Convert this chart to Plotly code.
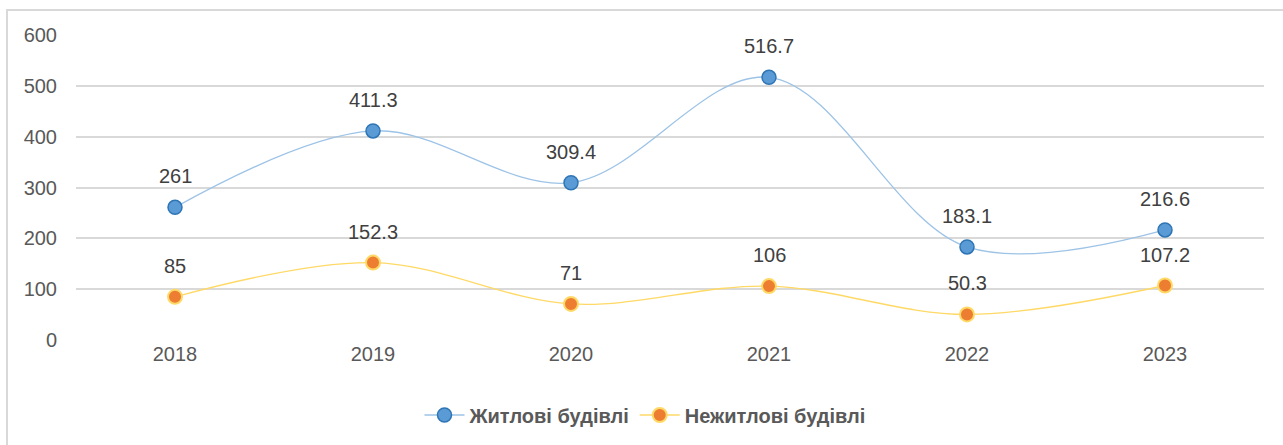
import plotly.graph_objects as go

years = ["2018", "2019", "2020", "2021", "2022", "2023"]
residential = [261, 411.3, 309.4, 516.7, 183.1, 216.6]
non_residential = [85, 152.3, 71, 106, 50.3, 107.2]
y_ticks = [0, 100, 200, 300, 400, 500, 600]

W, H = 1283, 445
ML, MR, MT, MB = 76, 19, 35, 104
PW, PH = W - ML - MR, H - MT - MB

FONT = "Liberation Sans, Arial, sans-serif"

fig = go.Figure()

fig.add_trace(go.Scatter(
    x=years, y=residential, name="Житлові будівлі",
    mode="lines+markers",
    line=dict(color="#9DC3E6", width=1.3, shape="spline", smoothing=1.0),
    marker=dict(size=14, color="#5B9BD5", line=dict(color="#2E75B6", width=1.5)),
))
fig.add_trace(go.Scatter(
    x=years, y=non_residential, name="Нежитлові будівлі",
    mode="lines+markers",
    line=dict(color="#FFD966", width=1.3, shape="spline", smoothing=1.0),
    marker=dict(size=14, color="#ED7D31", line=dict(color="#FFD966", width=2)),
))

# value labels above each point (category index used as x position)
for series in (residential, non_residential):
    for i, v in enumerate(series):
        fig.add_annotation(
            x=i, y=v, text=f"{v:g}", showarrow=False,
            yshift=31, font=dict(family=FONT, size=20, color="#404040"),
        )

# outer chart frame
def px_x(p):
    return (p - ML) / PW

def px_y(p):
    return (H - MB - p) / PH

fig.add_shape(
    type="rect", xref="paper", yref="paper",
    x0=px_x(7), x1=px_x(1300), y0=px_y(10), y1=px_y(460),
    line=dict(color="#D9D9D9", width=2), fillcolor="rgba(0,0,0,0)",
    layer="below",
)

fig.update_layout(
    width=W, height=H,
    margin=dict(l=ML, r=MR, t=MT, b=MB),
    paper_bgcolor="white", plot_bgcolor="white",
    font=dict(family=FONT, size=20, color="#595959"),
    showlegend=True,
    legend=dict(
        orientation="h", x=px_x(645), xanchor="center", y=px_y(415), yanchor="middle",
        font=dict(family=FONT, size=20, color="#595959", weight="bold"),
        itemwidth=40,
    ),
    xaxis=dict(
        type="category", range=[-0.5, 5.5], showgrid=False, zeroline=False,
        showline=False, ticks="", tickfont=dict(size=20, color="#595959"),
        fixedrange=True,
    ),
    yaxis=dict(
        range=[0, 600], tickvals=y_ticks, showgrid=True, gridcolor="#D9D9D9",
        gridwidth=1.5, zeroline=False, showline=False, ticks="",
        tickfont=dict(size=20, color="#595959"), ticklabelstandoff=18,
        fixedrange=True,
    ),
)

fig.write_html("out.html")
